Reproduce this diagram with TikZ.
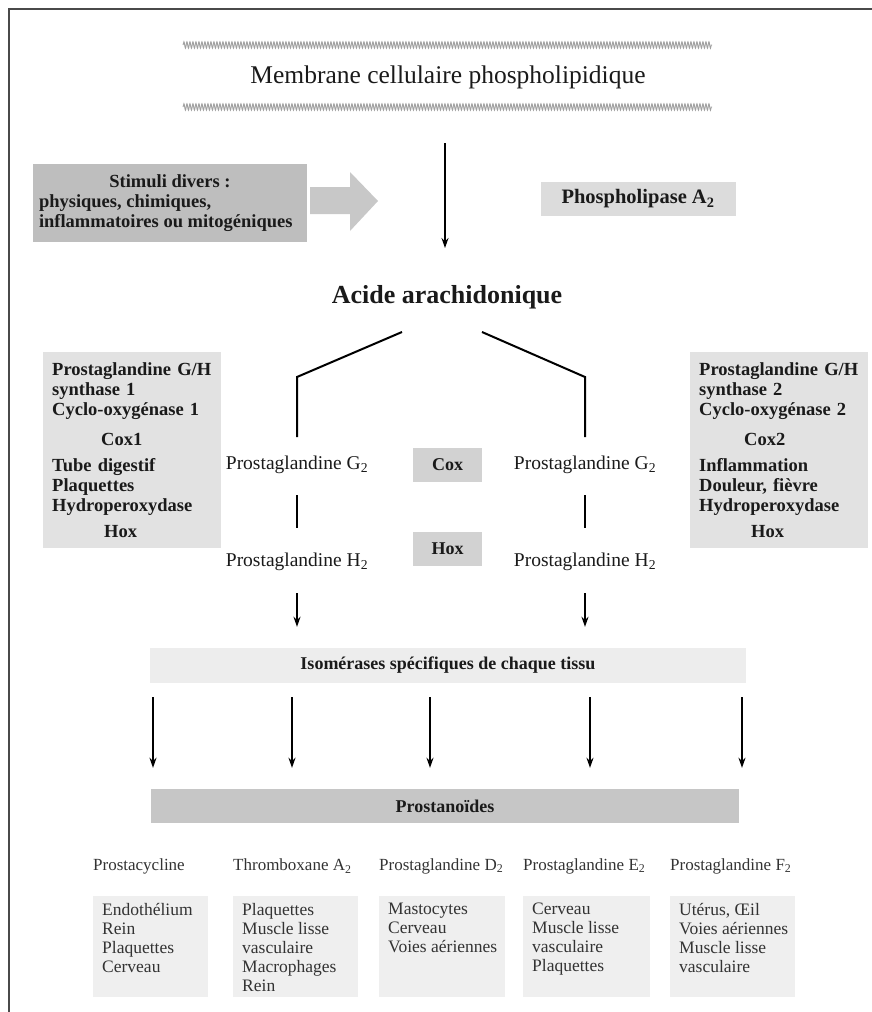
\documentclass[tikz,border=0pt]{standalone}
\usepackage{fontspec}
\setmainfont{Liberation Serif}
\usetikzlibrary{arrows.meta,decorations.pathmorphing}
\definecolor{framecol}{HTML}{4A4A4A}
\definecolor{stimcol}{HTML}{BEBEBE}
\definecolor{bigarrowcol}{HTML}{C8C8C8}
\definecolor{plcol}{HTML}{DCDCDC}
\definecolor{sidecol}{HTML}{E2E2E2}
\definecolor{coxcol}{HTML}{D2D2D2}
\definecolor{isocol}{HTML}{EDEDED}
\definecolor{proscol}{HTML}{C6C6C6}
\definecolor{tiscol}{HTML}{EFEFEF}
\definecolor{txtcol}{HTML}{1A1A1A}
\definecolor{graytxt}{HTML}{333333}
\definecolor{wavecol}{HTML}{A0A0A0}
\newcommand{\setfs}[2]{\fontsize{#1pt}{#2pt}\selectfont}
\begin{document}
\begin{tikzpicture}[x=1pt,y=-1pt,
  every node/.style={text=txtcol},
  wavy/.style={wavecol, line width=0.9pt, decorate,
    decoration={snake, amplitude=3.2pt, segment length=3pt}},
  arr/.style={line width=1.5pt, -{Stealth[length=10pt,width=7pt]}},
  link/.style={line width=2pt},
  stimbox/.style={fill=stimcol, minimum width=274pt, minimum height=78pt,
    inner xsep=6pt, align=left, font=\bfseries\setfs{18.5}{20}},
  plbox/.style={fill=plcol, minimum width=195pt, minimum height=34pt,
    font=\bfseries\setfs{20.5}{22}},
  sidebox/.style={fill=sidecol, inner xsep=9pt, text width=160pt,
    minimum height=196pt, align=left, anchor=north west,
    font=\bfseries\setfs{18.5}{20}},
  pgtext/.style={font=\setfs{19.5}{22}, inner sep=0pt},
  enzbox/.style={fill=coxcol, minimum width=69pt, minimum height=34pt,
    font=\bfseries\setfs{18}{20}},
  barbox/.style={minimum height=35pt, font=\bfseries\setfs{18}{20}},
  lab/.style={anchor=west, inner sep=0pt, text=graytxt, font=\setfs{17}{19}},
  tisbox/.style={fill=tiscol, inner xsep=9pt, inner ysep=7pt, anchor=north west,
    text=graytxt, font=\setfs{17.5}{19}}
]
\useasboundingbox (0,0) rectangle (872,1012);
% frame
\draw[framecol, line width=2.2pt] (9,1012) -- (9,9) -- (872,9);
% membrane
\draw[wavy] (183,45) -- (712,45);
\node[font=\setfs{25.5}{28}] (mem) at (448,77) {Membrane cellulaire phospholipidique};
\draw[wavy] (183,107) -- (712,107);
% main arrow
\coordinate (m1) at (445,143);
\coordinate (m2) at (445,248);
\draw[arr] (m1) -- (m2);
% stimuli
\node[stimbox] (stim) at (170,203) {\makebox[262pt]{Stimuli divers :}\\
physiques, chimiques,\\ inflammatoires ou mitogéniques};
\fill[bigarrowcol] (310,187) -- (350,187) -- (350,172) -- (378,201)
  -- (350,231) -- (350,214) -- (310,214) -- cycle;
% phospholipase
\node[plbox] (pla) at (638,199) {Phospholipase A\textsubscript{2}};
% acide arachidonique
\node[font=\bfseries\setfs{26}{28}] (aa) at (447,297) {Acide arachidonique};
% side boxes
\node[sidebox] (cox1box) at (43,352) {Prostaglandine G/H\\ synthase 1\\
Cyclo-oxygénase 1\\[10pt] \hspace*{49pt}Cox1\\[6pt] Tube digestif\\
Plaquettes\\ Hydroperoxydase\\[6pt] \hspace*{52pt}Hox};
\node[sidebox] (cox2box) at (690,352) {Prostaglandine G/H\\ synthase 2\\
Cyclo-oxygénase 2\\[10pt] \hspace*{45pt}Cox2\\[6pt] Inflammation\\
Douleur, fièvre\\ Hydroperoxydase\\[6pt] \hspace*{52pt}Hox};
% prostaglandins
\node[pgtext] (g2l) at (297,465) {Prostaglandine G\textsubscript{2}};
\node[pgtext] (g2r) at (585,465) {Prostaglandine G\textsubscript{2}};
\node[pgtext] (h2l) at (297,562) {Prostaglandine H\textsubscript{2}};
\node[pgtext] (h2r) at (585,562) {Prostaglandine H\textsubscript{2}};
\node[enzbox] (cox) at (447.5,465) {Cox};
\node[enzbox] (hox) at (447.5,549) {Hox};
% bracket from acide arachidonique
\coordinate (la) at (402,332);
\coordinate (lb) at (297,377);
\coordinate (lc) at (297,437);
\coordinate (ra) at (482,332);
\coordinate (rb) at (585,377);
\coordinate (rc) at (585,437);
\draw[link] (la) -- (lb) -- (lc);
\draw[link] (ra) -- (rb) -- (rc);
\draw[link, shorten <=30pt, shorten >=34pt] (g2l.center) -- (h2l.center);
\draw[link, shorten <=30pt, shorten >=34pt] (g2r.center) -- (h2r.center);
% isomerases
\node[barbox, fill=isocol, minimum width=596pt]
  (iso) at (448,665.5) {Isomérases spécifiques de chaque tissu};
\draw[arr, shorten <=31pt, shorten >=21pt] (h2l.center) -- (h2l.center |- iso.north);
\draw[arr, shorten <=31pt, shorten >=21pt] (h2r.center) -- (h2r.center |- iso.north);
% prostanoides
\node[barbox, fill=proscol, minimum width=588pt, minimum height=34pt]
  (pros) at (445,806) {Prostanoïdes};
\foreach \x in {153,292,430,590,742}{
  \draw[arr, shorten <=14pt, shorten >=21pt] (iso.south -| \x,0) -- (pros.north -| \x,0);
}
% tissue boxes
\node[tisbox] (t1) at (93,896) {\parbox[c][87pt][t]{97pt}{\raggedright
Endothélium\\ Rein\\ Plaquettes\\ Cerveau}};
\node[tisbox] (t2) at (233,896) {\parbox[c][87pt][t]{107pt}{\raggedright
Plaquettes\\ Muscle lisse\\ vasculaire\\ Macrophages\\ Rein}};
\node[tisbox] (t3) at (379,896) {\parbox[c][87pt][t]{108pt}{\raggedright
Mastocytes\\ Cerveau\\ \mbox{Voies aériennes}}};
\node[tisbox] (t4) at (523,896) {\parbox[c][87pt][t]{109pt}{\raggedright
Cerveau\\ Muscle lisse\\ vasculaire\\ Plaquettes}};
\node[tisbox] (t5) at (670,896) {\parbox[c][87pt][t]{107pt}{\raggedright
Utérus, Œil\\ \mbox{Voies aériennes}\\ Muscle lisse\\ vasculaire}};
% labels
\node[lab] (l1) at (t1.north west |- 0,866) {Prostacycline};
\node[lab] (l2) at (t2.north west |- 0,866) {Thromboxane A\textsubscript{2}};
\node[lab] (l3) at (t3.north west |- 0,866) {Prostaglandine D\textsubscript{2}};
\node[lab] (l4) at (t4.north west |- 0,866) {Prostaglandine E\textsubscript{2}};
\node[lab] (l5) at (t5.north west |- 0,866) {Prostaglandine F\textsubscript{2}};
\end{tikzpicture}
\end{document}
